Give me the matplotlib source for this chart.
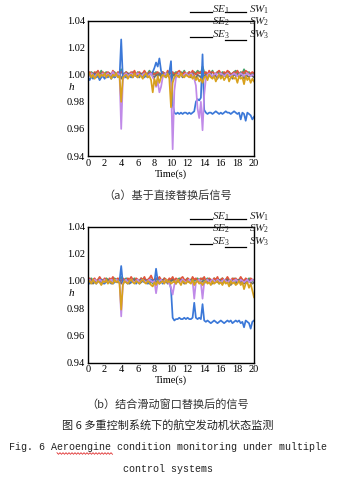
import numpy as np
import matplotlib
matplotlib.use("Agg")
import matplotlib.pyplot as plt
from matplotlib.lines import Line2D

#========= Fonts ===========
plt.rcParams['font.family'] = ['Liberation Serif', 'Noto Sans CJK SC']
plt.rcParams['mathtext.fontset'] = 'custom'
plt.rcParams['mathtext.it'] = 'Liberation Serif:italic'
plt.rcParams['mathtext.rm'] = 'Liberation Serif'

#========= Data ===========
# time axis (s), one sample every 0.2 s
time = np.linspace(0, 20, 101)

# signals, given as deviation from 1 in units of 1e-3 (h = 1 + d/1000)
# ---- (a) direct replacement ----
a_blue = [-2, -4, -1, -3, 0, -2, -1, -4, -2, -1,
          -3, -1, -2, 0, -3, -1, -2, -1, 0, -2,
          26, -3, -1, -2, 0, -1, -2, -1, 0, -1,
          -2, -1, 0, -1, -2, 0, -1, 1, 0, 2,
          5, 9, 6, 12, 3, 0, -1, 1, 0, 2,
          10, -22, -28, -29, -28, -29, -28, -29, -28, -28,
          -29, -28, -29, -28, -27, -20, -18, -19, -17, 15,
          -26, -28, -29, -28, -28, -29, -28, -27, -28, -29,
          -28, -29, -28, -27, -28, -28, -29, -28, -27, -28,
          -29, -28, -33, -28, -29, -34, -28, -29, -30, -33,
          -31]
a_purple = [0, -1, 1, 0, -2, 0, 1, -1, 0, 1,
            -1, 0, 1, -1, 0, 2, 0, -1, 1, 0,
            -40, -4, 0, 1, -1, 0, 1, 0, -1, 0,
            1, 0, -1, 0, 1, 0, -1, 0, 1, -2,
            -4, -9, -5, -13, -9, -2, 0, 1, 0, -1,
            -6, -55, -12, -2, 0, 1, 0, -1, 0, 1,
            0, -1, 1, 0, -3, -8, -25, -32, -20, -41,
            -15, -3, 0, 1, 0, -1, 0, 1, -1, 0,
            1, 0, -1, 0, 1, 0, -1, 0, 1, 0,
            -1, 0, 1, 0, -1, 0, 1, 0, -1, 0,
            0]
a_orange = [-1, 1, -2, 0, -3, -1, 1, -2, 0, -1,
            1, -2, 0, -1, -3, 0, -1, 1, -2, -1,
            -20, -2, -1, 0, -3, -1, 0, -2, 1, -1,
            -2, 0, -1, -3, 0, 1, -2, -1, -4, -13,
            -3, -8, -1, -6, -2, 0, -1, -2, 1, -3,
            -24, -6, -2, 0, -1, -2, 1, -1, -2, 0,
            -1, -2, 0, -3, -1, -4, -2, -5, -3, -6,
            -2, -1, -4, 0, -2, -3, -1, -5, -2, 0,
            -3, -1, -4, -2, 0, -5, -2, -1, -3, -2,
            -6, -1, -3, -2, -7, -1, -4, -2, -6, -3,
            -5]
a_green = [1, 0, 2, 1, -1, 2, 0, 1, 3, 0,
           1, 2, 0, 1, -1, 1, 2, 0, 1, 2,
           4, 0, 1, 2, 0, 1, -1, 2, 1, 0,
           2, 1, 0, 1, 2, 0, 1, 3, 1, 0,
           1, 2, 0, 1, -1, 2, 1, 0, 2, 1,
           2, 0, 1, 2, 1, 0, 2, 1, 3, 0,
           1, 2, 0, 1, 2, 1, 3, 2, 1, 6,
           2, 1, 0, 2, 1, 3, 0, 1, 2, 1,
           0, 2, 1, -1, 1, 2, 0, 1, 2, 3,
           1, 0, 2, 1, 4, 0, 1, 2, 0, 1,
           1]
a_red = [0, 2, 1, 0, 2, 1, 3, 0, 1, 2,
         0, 1, 2, 1, 0, 3, 1, 0, 2, 1,
         2, 1, 0, 2, 1, 0, 2, 1, 3, 0,
         1, 2, 0, 1, 3, 1, 0, 2, 1, 2,
         0, 1, 2, 0, 1, 2, 1, 0, 3, 1,
         1, 2, 0, 1, 2, 3, 1, 0, 2, 1,
         0, 2, 1, 3, 1, 0, 2, 1, 2, 3,
         1, 2, 0, 3, 1, 2, 1, 0, 2, 3,
         1, 0, 2, 1, 3, 2, 0, 1, 2, 1,
         3, 1, 0, 2, 1, 3, 2, 0, 1, 2,
         1]
a_gray = [-1, 0, -2, 0, 1, -1, 0, -2, 1, 0,
          -1, -2, 0, 1, -1, 0, -2, -1, 0, 1,
          -3, -1, 0, -2, 1, 0, -1, -2, 0, -1,
          0, -2, 1, -1, 0, -1, -2, 0, 1, -1,
          -2, 0, -1, 1, -2, 0, -1, -2, 0, 1,
          -4, -1, 0, -2, -1, 1, 0, -2, -1, 0,
          -1, 0, -2, 1, -1, -3, 0, -1, -2, 2,
          -1, 0, -2, -1, 1, -2, 0, -1, -3, 0,
          -2, 1, -1, 0, -2, -1, 0, -3, 1, -1,
          0, -2, -1, 1, -3, 0, -1, -2, 0, -1,
          -2]

# ---- (b) sliding window replacement ----
b_blue = [0, -2, -1, 0, -1, -2, 0, -1, 1, -1,
          -2, 0, -1, -1, 0, -2, -1, 0, -1, 0,
          11, -2, 0, -1, -2, 0, -1, 0, -1, -2,
          0, -1, 1, 0, -1, 0, -2, -1, 1, 0,
          -1, 9, 0, -1, 0, -2, -1, 0, -1, 0,
          -6, -27, -29, -28, -28, -27, -28, -28, -27, -28,
          -27, -28, -28, -27, -16, -27, -28, -27, -28, -17,
          -29, -30, -29, -30, -31, -30, -29, -30, -31, -30,
          -29, -30, -31, -30, -29, -30, -29, -31, -30, -29,
          -30, -29, -31, -30, -34, -29, -30, -31, -35, -30,
          -29]
b_purple = [0, 1, -1, 0, 1, 0, -1, 1, 0, -1,
            1, 0, -1, 0, 1, -1, 0, 1, 0, -1,
            -26, -2, 0, 1, -1, 0, 1, 0, -1, 0,
            1, -1, 0, 1, 0, -1, 0, 1, 0, -1,
            0, -9, -1, 0, 1, -1, 0, 1, -1, -2,
            -5, -10, -3, 0, 1, -1, 0, 1, 0, -1,
            0, 1, -1, 0, -13, -1, 0, 1, -1, -13,
            -1, 0, 1, -1, 0, 1, 0, -1, 1, 0,
            -1, 0, 1, 0, -1, 0, 1, -1, 0, 1,
            0, -1, 1, 0, -1, 0, 1, -1, 0, 1,
            0]
b_orange = [-1, 0, -2, 1, -1, -2, 0, -1, -3, 0,
            -1, 1, -2, 0, -1, -2, 1, -1, 0, -2,
            -21, -3, 0, -1, -2, 0, 1, -1, -2, 0,
            -1, -2, 0, 1, -1, -2, 0, -1, -3, -4,
            -1, -3, 0, -2, -1, 0, -2, 1, -1, 0,
            -2, -1, 0, -2, 1, -1, -3, 0, -1, -2,
            0, -1, -2, 1, -3, -1, 0, -2, -1, -3,
            -1, 0, -2, -1, -3, 0, -2, -1, 0, -2,
            -1, -3, 0, -2, -1, -4, 0, -2, -1, -3,
            -2, 0, -3, -1, -6, -2, -1, -5, -2, -7,
            -12]
b_green = [1, 0, 2, 0, 1, -1, 1, 2, 0, 1,
           0, 2, 1, -1, 1, 0, 2, 1, 0, 1,
           3, 0, 1, 2, 0, 1, -1, 1, 2, 0,
           1, 0, 2, 1, 0, 1, -1, 2, 0, -2,
           1, 2, 0, 1, -1, 0, 2, 1, 0, 1,
           0, 2, 1, 0, 1, 2, 0, 1, -1, 1,
           2, 0, 1, 2, 0, 1, 2, 0, 1, 2,
           0, 1, 2, -1, 1, 0, 2, 1, 0, -2,
           1, 2, 0, 1, 2, 0, -1, 1, 2, 0,
           1, 0, 2, 1, -1, 1, 0, 2, 1, 0,
           1]
b_red = [1, 2, 0, 1, 2, 0, 1, 3, 1, 0,
         2, 1, 0, 2, 1, 3, 0, 1, 2, 1,
         0, 2, 1, 0, 2, 1, 3, 1, 0, 2,
         1, 0, 2, 1, 3, 0, 1, 2, 4, 1,
         0, 2, 1, 3, 1, 0, 2, 1, 0, 2,
         1, 3, 0, 2, 1, 0, 2, 3, 1, 0,
         2, 1, 0, 3, 1, 2, 0, 1, 2, 1,
         3, 0, 1, 2, 1, 0, 2, 1, 3, 0,
         1, 2, 0, 1, 3, 1, 0, 2, 1, 2,
         0, 1, 3, 1, 0, 2, 1, 0, 2, 1,
         0]
b_gray = [0, -1, 1, -2, 0, -1, 0, 1, -1, -2,
          0, -1, 1, 0, -2, -1, 0, 1, -1, 0,
          -2, 0, -1, 1, 0, -2, -1, 0, 1, -1,
          0, -2, -1, 0, 1, -1, 0, -2, 0, -1,
          1, -1, 0, -2, 0, 1, -1, 0, -2, -1,
          0, 1, -1, -2, 0, -1, 1, 0, -2, -1,
          0, -1, 1, 0, -2, -1, 0, 1, -1, 0,
          -2, 0, -1, 1, 0, -2, -1, 0, -1, 1,
          0, -2, -1, 0, 1, -1, -3, 0, -1, -2,
          0, 1, -1, 0, -2, -1, 0, 1, -1, -2,
          -1]

xticks = [0, 2, 4, 6, 8, 10, 12, 14, 16, 18, 20]
yticks = [0.94, 0.96, 0.98, 1.00, 1.02, 1.04]
legend_rows = [("SE_1", "SW_1"), ("SE_2", "SW_2"), ("SE_3", "SW_3")]

# drawing order: bottom -> top
colors = {'green': '#45a56c', 'red': '#e2553c', 'gray': '#6f6f6f',
          'blue': '#3b78d8', 'purple': '#c08ae8', 'orange': '#d8a11c'}
panel_a = [('green', a_green), ('red', a_red), ('gray', a_gray),
           ('blue', a_blue), ('purple', a_purple), ('orange', a_orange)]
panel_b = [('green', b_green), ('red', b_red), ('gray', b_gray),
           ('blue', b_blue), ('purple', b_purple), ('orange', b_orange)]

#========= Figure ===========
W, H = 338.0, 479.0
fig = plt.figure(figsize=(W/100, H/100), dpi=100)


def px(x, y):
    # pixel position (from top-left) -> figure fraction
    return x/W, 1 - y/H


def draw_panel(top, bottom, series, legend_y):
    x0, y1 = px(88, top)
    x1, y0 = px(254, bottom)
    ax = fig.add_axes([x0, y0, x1 - x0, y1 - y0])
    for name, d in series:
        ax.plot(time, 1 + np.array(d)/1000.0, color=colors[name], lw=1.25)
    ax.set_xlim(0, 20)
    ax.set_ylim(0.94, 1.04)
    ax.set_xticks(xticks)
    ax.set_yticks(yticks)
    ax.set_yticklabels(['%.2f' % v for v in yticks])
    ax.tick_params(length=0, labelsize=7.5, pad=2)
    for s in ax.spines.values():
        s.set_linewidth(1.0)
        s.set_color('black')
    ax.set_xlabel('Time(s)', fontsize=7.5, labelpad=1)
    hx, hy = px(71, top + 67)
    fig.text(hx, hy, 'h', fontsize=8, style='italic', ha='center', va='center')

    # legend, as drawn in the original (black lines, second row without lines)
    for k, (se, sw) in enumerate(legend_rows):
        ty = legend_y + k*12.5
        fig.text(*px(212, ty), r'$\mathit{%s}$' % se, fontsize=8, ha='left', va='center', color='#222222')
        fig.text(*px(249, ty), r'$\mathit{%s}$' % sw, fontsize=8, ha='left', va='center', color='#222222')
        if k != 1:
            lx0, ly = px(190, ty + 2.5)
            lx1, _ = px(212, ty + 2.5)
            fig.add_artist(Line2D([lx0, lx1], [ly, ly], color='black', lw=0.9))
            lx0, ly = px(225, ty + 2.5 + (3 if k == 2 else 0))
            lx1, _ = px(246, ty + 2.5)
            fig.add_artist(Line2D([lx0, lx1], [ly, ly], color='black', lw=0.9))
    return ax


ax_a = draw_panel(20.5, 156, panel_a, 9.5)
ax_b = draw_panel(226.5, 362.7, panel_b, 216.5)

#========= Captions ===========
cjk = ['Noto Sans CJK SC', 'DejaVu Sans']
fig.text(*px(168, 196), '（a）基于直接替换后信号', family=cjk, fontsize=8,
         ha='center', va='center', color='#333333')
fig.text(*px(168, 404), '（b）结合滑动窗口替换后的信号', family=cjk, fontsize=8,
         ha='center', va='center', color='#333333')
fig.text(*px(168, 425), '图 6 多重控制系统下的航空发动机状态监测', family=cjk, fontsize=8,
         ha='center', va='center', color='#222222')
fig.text(*px(168, 447), 'Fig. 6 Aeroengine condition monitoring under multiple',
         family='Liberation Mono', fontsize=7.2, ha='center', va='center', color='#222222')
fig.text(*px(168, 469), 'control systems', family='Liberation Mono', fontsize=7.2,
         ha='center', va='center', color='#222222')

# red spell-check squiggle under "Aeroengine"
wx = np.arange(57, 113, 1.5)
wy = 453.5 + np.where(np.arange(len(wx)) % 2 == 0, -0.8, 0.8)
fig.add_artist(Line2D(wx/W, 1 - wy/H, color='#e03030', lw=0.6))

fig.savefig('out.png', dpi=100)
